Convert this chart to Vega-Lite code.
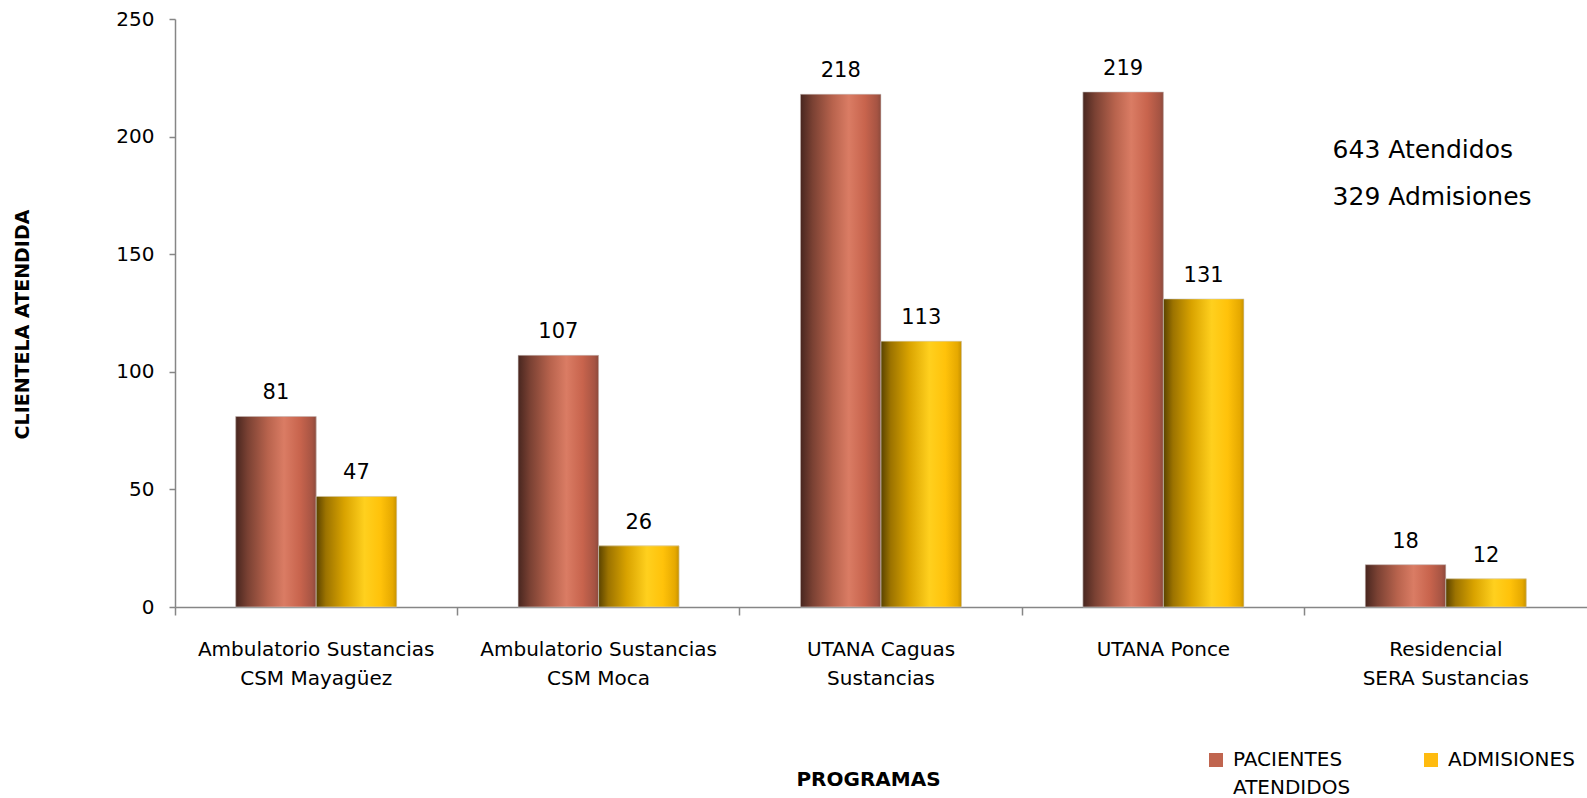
{
  "$schema": "https://vega.github.io/schema/vega-lite/v6.json",
  "width": 1412,
  "height": 588,
  "autosize": {"type": "none"},
  "padding": {"left": 175, "top": 19, "right": 0, "bottom": 191},
  "config": {"view": {"stroke": null}, "font": "DejaVu Sans"},
  "datasets": {
    "bars": [
      {"programa": "Ambulatorio Sustancias CSM Mayagüez", "serie": "PACIENTES ATENDIDOS", "valor": 81},
      {"programa": "Ambulatorio Sustancias CSM Mayagüez", "serie": "ADMISIONES", "valor": 47},
      {"programa": "Ambulatorio Sustancias CSM Moca", "serie": "PACIENTES ATENDIDOS", "valor": 107},
      {"programa": "Ambulatorio Sustancias CSM Moca", "serie": "ADMISIONES", "valor": 26},
      {"programa": "UTANA Caguas Sustancias", "serie": "PACIENTES ATENDIDOS", "valor": 218},
      {"programa": "UTANA Caguas Sustancias", "serie": "ADMISIONES", "valor": 113},
      {"programa": "UTANA Ponce", "serie": "PACIENTES ATENDIDOS", "valor": 219},
      {"programa": "UTANA Ponce", "serie": "ADMISIONES", "valor": 131},
      {"programa": "Residencial SERA Sustancias", "serie": "PACIENTES ATENDIDOS", "valor": 18},
      {"programa": "Residencial SERA Sustancias", "serie": "ADMISIONES", "valor": 12}
    ],
    "notes": [
      {"programa": "Residencial SERA Sustancias", "valor": 194.5, "texto": "643 Atendidos"},
      {"programa": "Residencial SERA Sustancias", "valor": 174.5, "texto": "329 Admisiones"}
    ]
  },
  "encoding": {
    "x": {
      "field": "programa",
      "type": "nominal",
      "sort": ["Ambulatorio Sustancias CSM Mayagüez", "Ambulatorio Sustancias CSM Moca", "UTANA Caguas Sustancias", "UTANA Ponce", "Residencial SERA Sustancias"],
      "scale": {"paddingInner": 0, "paddingOuter": 0},
      "axis": {
        "bandPosition": 0,
        "labelAngle": 0,
        "labelFontSize": 20,
        "labelColor": "#000000",
        "labelPadding": 24,
        "labelLimit": 0,
        "labelLineHeight": 29,
        "labelBaseline": "top",
        "labelExpr": "datum.label == 'Ambulatorio Sustancias CSM Mayagüez' ? ['Ambulatorio Sustancias', 'CSM Mayagüez'] : datum.label == 'Ambulatorio Sustancias CSM Moca' ? ['Ambulatorio Sustancias', 'CSM Moca'] : datum.label == 'UTANA Caguas Sustancias' ? ['UTANA Caguas', 'Sustancias'] : datum.label == 'Residencial SERA Sustancias' ? ['Residencial', 'SERA Sustancias'] : datum.label",
        "domainColor": "#868686",
        "domainWidth": 1.5,
        "tickColor": "#868686",
        "tickWidth": 1.5,
        "tickSize": 8,
        "title": "PROGRAMAS",
        "titleFontSize": 20,
        "titleFontWeight": "bold",
        "titleColor": "#000000",
        "titleX": 693,
        "titleY": 172,
        "titleBaseline": "middle"
      }
    },
    "xOffset": {
      "field": "serie",
      "type": "nominal",
      "sort": ["PACIENTES ATENDIDOS", "ADMISIONES"],
      "scale": {"paddingInner": 0, "paddingOuter": 0.754}
    },
    "y": {
      "field": "valor",
      "type": "quantitative",
      "scale": {"domain": [0, 250], "nice": false},
      "axis": {
        "values": [0, 50, 100, 150, 200, 250],
        "grid": false,
        "labelFontSize": 20,
        "labelColor": "#000000",
        "labelPadding": 15,
        "domainColor": "#868686",
        "domainWidth": 1.5,
        "tickColor": "#868686",
        "tickWidth": 1.5,
        "tickSize": 6,
        "title": "CLIENTELA ATENDIDA",
        "titleFontSize": 19,
        "titleFontWeight": "bold",
        "titleColor": "#000000",
        "titleX": -153,
        "titleY": 305,
        "titleAngle": -90,
        "titleAlign": "center",
        "titleBaseline": "middle"
      }
    }
  },
  "layer": [
    {
      "data": {"name": "bars"},
      "mark": {"type": "bar"},
      "encoding": {
        "color": {
          "field": "serie",
          "type": "nominal",
          "sort": ["PACIENTES ATENDIDOS", "ADMISIONES"],
          "scale": {"domain": ["PACIENTES ATENDIDOS", "ADMISIONES"], "range": ["#c0654f", "#ffbb0f"]},
          "legend": {
            "orient": "none",
            "legendX": 1031,
            "legendY": 731,
            "direction": "horizontal",
            "columns": 2,
            "title": null,
            "symbolType": "square",
            "symbolSize": 196,
            "symbolStrokeWidth": 0,
            "labelFontSize": 20,
            "labelColor": "#000000",
            "labelOffset": 7,
            "labelBaseline": "top",
            "columnPadding": 70,
            "labelExpr": "datum.label == 'PACIENTES ATENDIDOS' ? ['PACIENTES', 'ATENDIDOS'] : [datum.label, '']",
            "encode": {"labels": {"update": {"dy": {"value": -10}, "lineHeight": {"value": 28}}}}
          }
        }
      }
    },
    {
      "data": {"name": "bars"},
      "transform": [{"filter": "datum.serie == 'PACIENTES ATENDIDOS'"}],
      "mark": {
        "type": "bar",
        "stroke": "#d0d0d0",
        "strokeWidth": 0.6,
        "fill": {
          "gradient": "linear", "x1": 0, "y1": 0, "x2": 1, "y2": 0,
          "stops": [
            {"offset": 0, "color": "#48261f"},
            {"offset": 0.15, "color": "#7a4133"},
            {"offset": 0.4, "color": "#b8634d"},
            {"offset": 0.6, "color": "#da7c64"},
            {"offset": 0.8, "color": "#c8644d"},
            {"offset": 0.95, "color": "#a65443"},
            {"offset": 1, "color": "#8c4a3c"}
          ]
        }
      }
    },
    {
      "data": {"name": "bars"},
      "transform": [{"filter": "datum.serie == 'ADMISIONES'"}],
      "mark": {
        "type": "bar",
        "stroke": "#d0d0d0",
        "strokeWidth": 0.6,
        "fill": {
          "gradient": "linear", "x1": 0, "y1": 0, "x2": 1, "y2": 0,
          "stops": [
            {"offset": 0, "color": "#5a4300"},
            {"offset": 0.12, "color": "#9c7300"},
            {"offset": 0.35, "color": "#d9a300"},
            {"offset": 0.6, "color": "#ffd01e"},
            {"offset": 0.8, "color": "#ffc20a"},
            {"offset": 0.95, "color": "#e6a900"},
            {"offset": 1, "color": "#c79200"}
          ]
        }
      }
    },
    {
      "data": {"name": "bars"},
      "mark": {"type": "text", "baseline": "bottom", "dy": -13, "fontSize": 21, "color": "#000000"},
      "encoding": {
        "text": {"field": "valor", "type": "quantitative"}
      }
    },
    {
      "data": {"name": "notes"},
      "mark": {"type": "text", "align": "left", "baseline": "middle", "dx": 28, "fontSize": 25, "color": "#000000"},
      "encoding": {
        "x": {
          "field": "programa",
          "type": "nominal",
          "sort": ["Ambulatorio Sustancias CSM Mayagüez", "Ambulatorio Sustancias CSM Moca", "UTANA Caguas Sustancias", "UTANA Ponce", "Residencial SERA Sustancias"],
          "bandPosition": 0
        },
        "xOffset": null,
        "text": {"field": "texto", "type": "nominal"}
      }
    }
  ]
}
